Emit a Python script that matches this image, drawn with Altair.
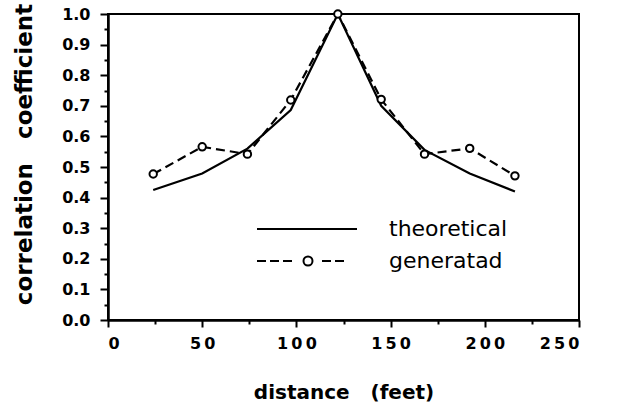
import altair as alt
import pandas as pd

# ---- data ----
distance = [24, 50, 74, 97, 122, 145, 168, 192, 216]
theoretical = [0.425, 0.479, 0.56, 0.686, 1.0, 0.70, 0.556, 0.479, 0.42]
generatad = [0.477, 0.566, 0.542, 0.719, 1.0, 0.721, 0.542, 0.561, 0.471]
series_names = ["theoretical", "generatad"]

df = pd.DataFrame({
    "distance": distance + distance,
    "corr": theoretical + generatad,
    "series": [series_names[0]] * len(distance) + [series_names[1]] * len(distance),
})

# legend symbols (custom paths, 1 unit = 2 px): solid line, dashed line with a circle
SOLID = "M-25,0H25"
DASHED = ("M-25,0H-20.5M-18.5,0H-14M-12,0H-7.5M7.5,0H12M14,0H18.5"
          "M2.75,0C2.75,1.243,1.743,2.25,0.5,2.25C-0.743,2.25,-1.75,1.243,-1.75,0"
          "C-1.75,-1.243,-0.743,-2.25,0.5,-2.25C1.743,-2.25,2.75,-1.243,2.75,0Z")

x_ticks = list(range(0, 251, 25))
y_ticks = [round(i * 0.05, 2) for i in range(21)]

NB = "\u00a0"

x_axis = alt.Axis(
    title=f"distance{NB*3}(feet)",
    values=x_ticks,
    labelExpr="datum.value % 50 === 0 ? join(split(datum.label, ''), '\u2009') : ''",
    tickSize={"condition": {"test": "datum.value % 50 === 0", "value": 7}, "value": 4},
    labelFont="DejaVu Sans", labelFontWeight="bold", labelFontSize=16,
    labelPadding=8, labelColor="black",
    titleFont="DejaVu Sans", titleFontWeight="bold", titleFontSize=20,
    titleColor="black", titleY=78, titleBaseline="alphabetic",
    grid=False, domainColor="black", domainWidth=2.5, tickColor="black", tickWidth=2,
)
y_axis = alt.Axis(
    title=f"correlation{NB*3}coefficient",
    values=y_ticks,
    labelExpr="round(datum.value * 100) % 10 === 0 ? format(datum.value, '.1f') : ''",
    tickSize={"condition": {"test": "round(datum.value * 100) % 10 === 0", "value": 8}, "value": 4},
    labelFont="DejaVu Sans", labelFontWeight="bold", labelFontSize=16,
    labelPadding=10, labelColor="black",
    titleFont="DejaVu Sans", titleFontWeight="bold", titleFontSize=23,
    titleColor="black", titleX=-84, titleY=140, titleBaseline="middle",
    grid=False, domainColor="black", domainWidth=2.5, tickColor="black", tickWidth=2,
)

def xe():
    return alt.X("distance:Q", scale=alt.Scale(domain=[0, 250], nice=False), axis=x_axis)

def ye():
    return alt.Y("corr:Q", scale=alt.Scale(domain=[0, 1], nice=False), axis=y_axis)

solid_line = alt.Chart(df).transform_filter(
    alt.datum.series == series_names[0]
).mark_line(color="black", strokeWidth=2.2).encode(x=xe(), y=ye())

dashed_line = alt.Chart(df).transform_filter(
    alt.datum.series == series_names[1]
).mark_line(color="black", strokeWidth=2.2, strokeDash=[9, 5]).encode(x=xe(), y=ye())

points = alt.Chart(df).transform_filter(
    alt.datum.series == series_names[1]
).mark_point(shape="circle", filled=True, fill="white", stroke="black",
             strokeWidth=2, size=55, opacity=1).encode(x=xe(), y=ye())

# legend-only layer: no rows drawn, the legend comes from the shape scale domain
legend_layer = alt.Chart(df).transform_filter("false").mark_point(
    filled=False, color="black", strokeWidth=2
).encode(
    x=xe(),
    y=ye(),
    shape=alt.Shape(
        "series:N",
        scale=alt.Scale(domain=series_names, range=[SOLID, DASHED]),
        legend=alt.Legend(
            title=None, orient="none", legendX=188, legendY=204,
            symbolSize=16, symbolStrokeWidth=2, symbolOpacity=1,
            symbolStrokeColor="black",
            labelFont="DejaVu Sans", labelFontSize=22, labelColor="black",
            labelOffset=71, rowPadding=10, padding=0, labelLimit=400,
        ),
    ),
)

chart = alt.layer(solid_line, dashed_line, points, legend_layer).properties(
    width=471, height=306,
    background="white",
    autosize=alt.AutoSizeParams(type="none"),
    padding={"left": 108, "top": 14, "right": 57, "bottom": 88},
).configure_view(
    stroke="black", strokeWidth=2
).configure_axis(
    grid=False, domainColor="black", domainWidth=2.5,
    tickColor="black", tickWidth=2,
)

chart.save("out.html", embed_options={"renderer": "svg", "actions": False})
